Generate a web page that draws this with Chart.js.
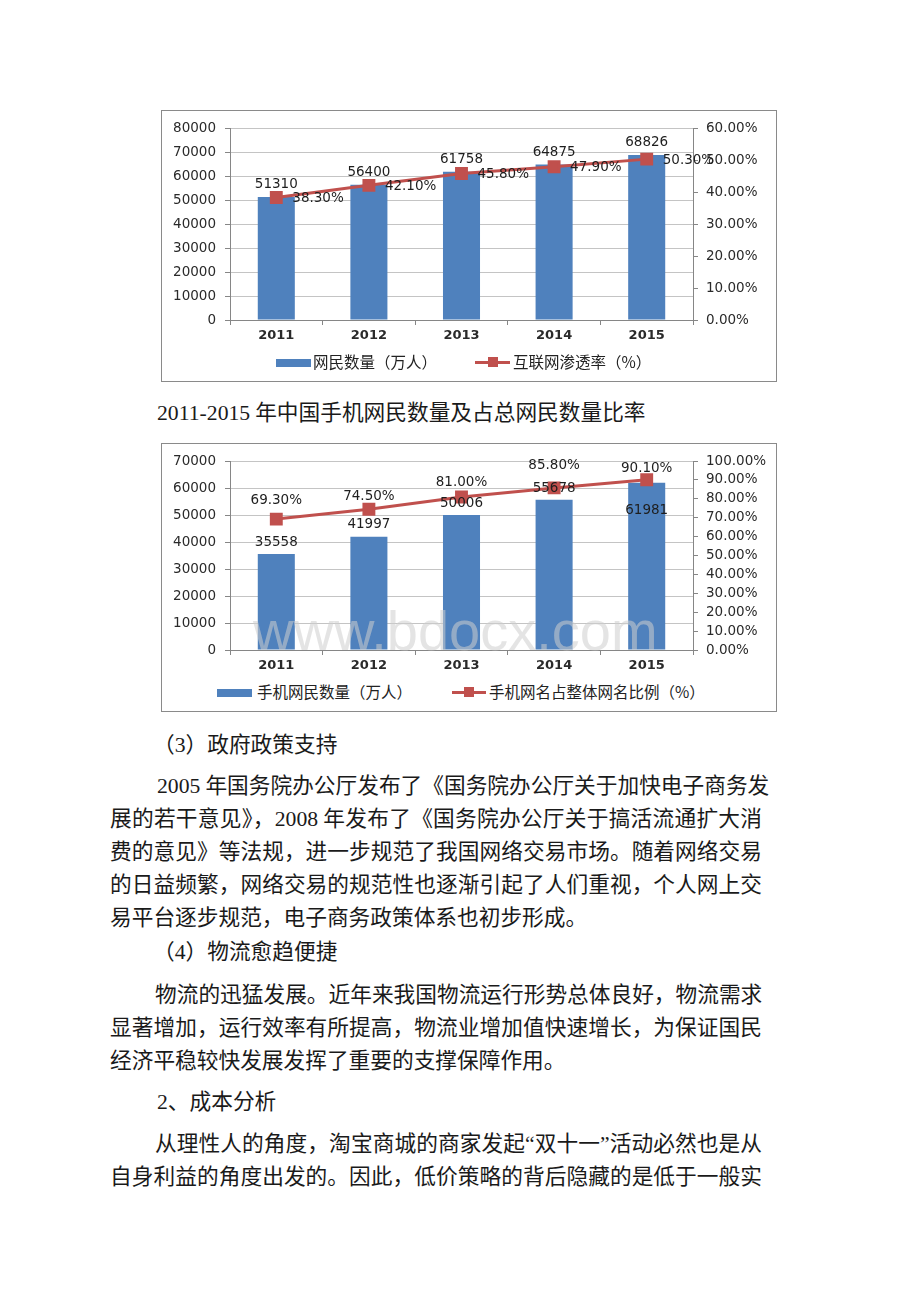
<!DOCTYPE html>
<html lang="zh">
<head>
<meta charset="UTF-8">
<title>网民数量</title>
<script src="https://cdn.jsdelivr.net/npm/chart.js"></script>
<style>
  body { margin:0; width:920px; height:1302px; background:#fff; position:relative; overflow:hidden;
         font-family:"Liberation Serif","Noto Sans CJK SC",serif; color:#1a1a1a; }
  .box { position:absolute; left:161px; width:614px; border:1px solid #8a8a8a; background:#fff; }
  .box canvas { position:absolute; left:0; top:0; }
  .lg { position:absolute; font-family:"Noto Sans CJK SC",sans-serif; font-size:15.5px; line-height:18px; color:#222; white-space:nowrap; }
  .sw { position:absolute; background:#4F81BD; }
  .ln { position:absolute; height:3px; background:#C0504D; }
  .sq { position:absolute; width:10px; height:10px; background:#C0504D; }
  .wm { position:absolute; font-family:"Liberation Sans",sans-serif; font-size:56px; line-height:56px;
        color:rgba(205,205,205,0.55); white-space:nowrap; pointer-events:none; }
  .t { position:absolute; font-size:21.7px; line-height:33px; white-space:nowrap; }
  .j { text-align:justify; text-align-last:justify; }
  .sp { margin-right:5px; }
</style>
</head>
<body>

<div class="box" style="top:110px;height:270px;">
  <canvas id="c1" width="614" height="240"></canvas>
  <div class="sw" style="left:114px;top:248px;width:35px;height:8px;"></div>
  <div class="lg" style="left:151px;top:241px;">网民数量（万人）</div>
  <div class="ln" style="left:313px;top:250px;width:35px;"></div>
  <div class="sq" style="left:326px;top:246px;"></div>
  <div class="lg" style="left:351px;top:241px;">互联网渗透率（%）</div>
</div>

<div class="t" style="left:157px;top:397px;">2011-2015<span style="margin-left:5px">年中国手机网民数量及占总网民数量比率</span></div>

<div class="box" style="top:443px;height:267px;">
  <canvas id="c2" width="614" height="236"></canvas>
  <div class="wm" style="left:91px;top:159px;">www.bdocx.com</div>
  <div class="sw" style="left:55px;top:245px;width:35px;height:8px;"></div>
  <div class="lg" style="left:95px;top:238px;">手机网民数量（万人）</div>
  <div class="ln" style="left:290px;top:247px;width:34px;"></div>
  <div class="sq" style="left:302px;top:243px;"></div>
  <div class="lg" style="left:327px;top:238px;">手机网名占整体网名比例（%）</div>
</div>

<div class="t" style="left:153px;top:729px;">（3）政府政策支持</div>
<div class="t j" style="left:157px;top:770px;width:605px;"><span class="sp">2005</span>年国务院办公厅发布了《国务院办公厅关于加快电子商务发</div>
<div class="t j" style="left:110px;top:803px;width:652px;">展的若干意见》，<span class="sp">2008</span>年发布了《国务院办公厅关于搞活流通扩大消</div>
<div class="t j" style="left:110px;top:836px;width:652px;">费的意见》等法规，进一步规范了我国网络交易市场。随着网络交易</div>
<div class="t j" style="left:110px;top:869px;width:652px;">的日益频繁，网络交易的规范性也逐渐引起了人们重视，个人网上交</div>
<div class="t" style="left:110px;top:902px;">易平台逐步规范，电子商务政策体系也初步形成。</div>

<div class="t" style="left:153px;top:936px;">（4）物流愈趋便捷</div>
<div class="t j" style="left:155px;top:979px;width:607px;">物流的迅猛发展。近年来我国物流运行形势总体良好，物流需求</div>
<div class="t j" style="left:110px;top:1012px;width:652px;">显著增加，运行效率有所提高，物流业增加值快速增长，为保证国民</div>
<div class="t" style="left:110px;top:1045px;">经济平稳较快发展发挥了重要的支撑保障作用。</div>

<div class="t" style="left:157px;top:1086px;">2、成本分析</div>
<div class="t j" style="left:155px;top:1128px;width:607px;">从理性人的角度，淘宝商城的商家发起“双十一”活动必然也是从</div>
<div class="t j" style="left:110px;top:1161px;width:652px;">自身利益的角度出发的。因此，低价策略的背后隐藏的是低于一般实</div>

<script>
  // data
  const years = ['2011', '2012', '2013', '2014', '2015'];
  const netizens = [51310, 56400, 61758, 64875, 68826];          // 网民数量（万人）
  const penetration = [38.3, 42.1, 45.8, 47.9, 50.3];            // 互联网渗透率 %
  const mobileNetizens = [35558, 41997, 50006, 55678, 61981];    // 手机网民数量（万人）
  const mobileShare = [69.3, 74.5, 81.0, 85.8, 90.1];            // 手机网名占整体网名比例 %

  // label nudges (pixels), as placed in the original
  const mobileBarLabelDy = [-12, -12, -12, -11, 28];
  const mobileLineLabelDy = [-19, -13, -14, -22, -11];

  const BLUE = '#4F81BD', RED = '#C0504D', AXIS = '#868686', GRID = '#c4c4c4';
  const FONT = 'DejaVu Sans';

  const dataLabels = {
    id: 'dataLabels',
    afterDatasetsDraw(chart, args, opts) {
      const ctx = chart.ctx;
      ctx.save();
      ctx.font = '13.5px "' + FONT + '"';
      ctx.fillStyle = '#1e1e1e';
      ctx.textBaseline = 'middle';
      const bars = chart.getDatasetMeta(0).data;
      const pts = chart.getDatasetMeta(1).data;
      const bv = chart.data.datasets[0].data, lv = chart.data.datasets[1].data;
      bars.forEach((el, i) => {
        ctx.textAlign = 'center';
        ctx.fillText(String(bv[i]), el.x, el.y + opts.barDy[i]);
      });
      pts.forEach((el, i) => {
        ctx.textAlign = opts.lineAlign;
        ctx.fillText(lv[i].toFixed(2) + '%', el.x + opts.lineDx, el.y + opts.lineDy[i]);
      });
      ctx.restore();
    }
  };

  function makeChart(id, bars, line, leftMax, rightMax, xHeight, labelOpts) {
    return new Chart(document.getElementById(id), {
      type: 'bar',
      data: {
        labels: years,
        datasets: [
          { type: 'bar', data: bars, backgroundColor: BLUE, borderWidth: 0,
            barPercentage: 0.4, categoryPercentage: 1, yAxisID: 'y', order: 1 },
          { type: 'line', data: line, borderColor: RED, borderWidth: 3, backgroundColor: RED,
            pointStyle: 'rect', pointRadius: 7, pointBackgroundColor: RED, pointBorderColor: RED,
            tension: 0, yAxisID: 'y1', order: 0 }
        ]
      },
      options: {
        responsive: false,
        animation: false,
        layout: { padding: { top: 14, left: 0, right: 0, bottom: 0 } },
        plugins: { legend: { display: false }, tooltip: { enabled: false }, dataLabels: labelOpts },
        scales: {
          x: {
            grid: { offset: true, drawOnChartArea: false, tickLength: 5, tickColor: AXIS },
            border: { color: AXIS },
            ticks: { color: '#2a2a2a', padding: 3, font: { family: FONT, size: 13, weight: 'bold' } },
            afterFit: s => { s.height = xHeight; }
          },
          y: {
            position: 'left', min: 0, max: leftMax,
            ticks: { stepSize: 10000, autoSkip: false, color: '#2a2a2a', padding: 9,
                     font: { family: FONT, size: 13.5 }, callback: v => String(v) },
            grid: { color: GRID, tickLength: 5, tickColor: AXIS },
            border: { color: AXIS },
            afterFit: s => { s.width = 68; }
          },
          y1: {
            position: 'right', min: 0, max: rightMax,
            ticks: { stepSize: 10, autoSkip: false, color: '#2a2a2a', padding: 8,
                     font: { family: FONT, size: 13.5 }, callback: v => v.toFixed(2) + '%' },
            grid: { drawOnChartArea: false, tickLength: 5, tickColor: AXIS },
            border: { color: AXIS },
            afterFit: s => { s.width = 83; }
          }
        }
      },
      plugins: [dataLabels]
    });
  }

  makeChart('c1', netizens, penetration, 80000, 60, 31,
    { barDy: [-12, -12, -12, -12, -12], lineDy: [1, 1, 1, 1, 1], lineDx: 16, lineAlign: 'left' });
  makeChart('c2', mobileNetizens, mobileShare, 70000, 100, 30,
    { barDy: mobileBarLabelDy, lineDy: mobileLineLabelDy, lineDx: 0, lineAlign: 'center' });
</script>
</body>
</html>
